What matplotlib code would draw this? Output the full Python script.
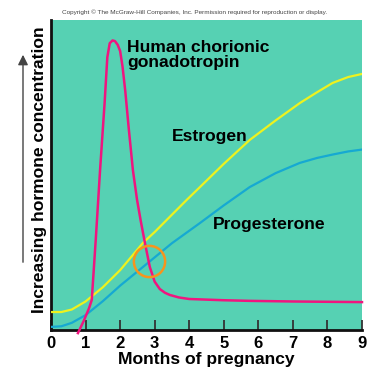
import matplotlib
matplotlib.use("Agg")
import matplotlib.pyplot as plt
from matplotlib.patches import FancyArrowPatch

plt.rcParams['font.family'] = ['Liberation Sans', 'DejaVu Sans']

# Data (months, relative concentration 0-100)
months_ticks = [0, 1, 2, 3, 4, 5, 6, 7, 8, 9]

estrogen_x = [0, 0.3, 0.6, 1.0, 1.5, 2.0, 2.67, 3.0, 3.5, 3.93, 4.31, 5.0, 5.75, 6.5, 7.2, 7.7, 8.15, 8.6, 9.0]
estrogen_y = [5.8, 5.8, 6.6, 9.2, 13.8, 19.3, 28.2, 31.6, 37.2, 42.0, 46.1, 53.6, 61.3, 67.6, 73.2, 76.7, 79.7, 81.6, 82.6]

progesterone_x = [0, 0.3, 0.6, 1.0, 1.5, 2.0, 2.8, 3.5, 4.31, 5.0, 5.75, 6.5, 7.2, 7.7, 8.15, 8.6, 9.0]
progesterone_y = [1.0, 1.2, 2.3, 4.8, 9.3, 14.3, 21.6, 28.0, 34.5, 40.2, 46.1, 50.6, 53.9, 55.5, 56.6, 57.6, 58.2]

hcg_x = [0.78, 0.95, 1.1, 1.18, 1.3, 1.42, 1.55, 1.63, 1.7, 1.78, 1.85, 1.93, 2.0, 2.07, 2.15, 2.25, 2.37, 2.49, 2.6, 2.72, 2.86, 3.0, 3.15, 3.3, 3.44, 3.7, 4.0, 5.0, 5.75, 7.0, 9.0]
hcg_y = [-1.0, 3.0, 7.0, 9.7, 30.0, 51.6, 73.0, 88.0, 92.5, 93.4, 93.2, 92.0, 90.0, 85.0, 77.0, 65.0, 51.6, 42.0, 35.0, 28.0, 20.3, 15.6, 13.2, 12.0, 11.3, 10.5, 10.0, 9.6, 9.4, 9.2, 9.0]

circle_x = [2.83]
circle_y = [22.3]

fig = plt.figure(figsize=(3.87, 3.89), dpi=100)
ax = fig.add_axes([51/387, 59/389, 311/387, 310/389])
ax.set_facecolor('#56d1b3')
ax.set_xlim(0, 9)
ax.set_ylim(0, 100)

ax.plot(estrogen_x, estrogen_y, color='#eef21e', lw=1.6, zorder=3)
ax.plot(progesterone_x, progesterone_y, color='#16a9d2', lw=1.6, zorder=3)
ax.plot(hcg_x, hcg_y, color='#f0157f', lw=1.8, zorder=4, clip_on=False,
        solid_joinstyle='round')
ax.plot(circle_x, circle_y, marker='o', ms=22.5, mfc='none', mec='#f7941d', mew=1.8,
        ls='none', zorder=5)

for s in ['top', 'right']:
    ax.spines[s].set_visible(False)
for s in ['left', 'bottom']:
    ax.spines[s].set_linewidth(2)
    ax.spines[s].set_color('#111111')

ax.set_xticks(months_ticks)
ax.set_xticklabels([str(m) for m in months_ticks], fontsize=12, fontweight='bold')
ax.set_yticks([])
ax.tick_params(axis='x', direction='in', length=7, width=1.3, color='#333333', pad=4)

ax.set_xlabel('Months of pregnancy', fontsize=12.6, fontweight='bold', labelpad=1)

fig.text(40/387, 1 - 170/389, 'Increasing hormone concentration', rotation=90,
         ha='center', va='center', fontsize=12.6, fontweight='bold')
fig.add_artist(FancyArrowPatch(
    (23/387, 1 - 265/389), (23/387, 1 - 52/389), transform=fig.transFigure,
    arrowstyle='-|>,head_length=6,head_width=3', color='#444444', lw=1.0,
    mutation_scale=1))

fig.text(195/387, 1 - 12/389,
         'Copyright \u00a9 The McGraw-Hill Companies, Inc. Permission required for reproduction or display.',
         ha='center', va='center', fontsize=4.6, color='#444444')

ax.text((127-51)/34.6, (330-40)/3.1, 'Human chorionic\ngonadotropin',
        ha='left', va='top', fontsize=12.6, fontweight='bold', linespacing=1.0)
ax.text((172-51)/34.6, (330-136)/3.1, 'Estrogen', ha='left', va='center',
        fontsize=12.6, fontweight='bold')
ax.text((213-51)/34.6, (330-225)/3.1, 'Progesterone', ha='left', va='center',
        fontsize=12.6, fontweight='bold')

fig.savefig('out.png', dpi=100)
